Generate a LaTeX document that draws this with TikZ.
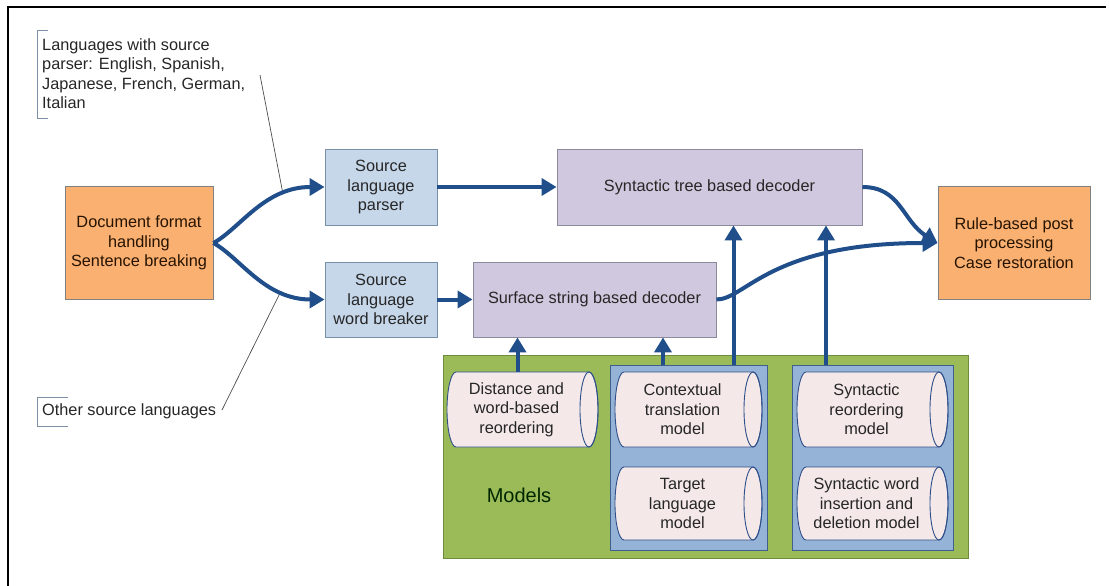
\documentclass[tikz,border=0pt]{standalone}
\usepackage{fontspec}
\setmainfont{Liberation Sans}
\usetikzlibrary{arrows.meta,calc}
\definecolor{orfill}{HTML}{FAB071}
\definecolor{orline}{HTML}{808080}
\definecolor{bluefill}{HTML}{C6D7EA}
\definecolor{blueline}{HTML}{7A8FA8}
\definecolor{purpfill}{HTML}{D0C8DE}
\definecolor{purpline}{HTML}{8C8A9C}
\definecolor{greenfill}{HTML}{9BBB59}
\definecolor{greenline}{HTML}{6E8C3C}
\definecolor{panelfill}{HTML}{95B3D7}
\definecolor{panelline}{HTML}{3F5F8F}
\definecolor{cylfill}{HTML}{F4E8E8}
\definecolor{cylline}{HTML}{2F4F8A}
\definecolor{arrowcol}{HTML}{1F4E8A}
\definecolor{txt}{HTML}{262626}
\definecolor{brk}{HTML}{7F8FA6}
% name, cx, cy, w, h, text
\newcommand{\modelcyl}[6]{%
  \path[cylbody] (#2-#4/2+9,#3-#5/2) -- (#2+#4/2-9,#3-#5/2)
     arc[start angle=-90,end angle=90,x radius=9,y radius=#5/2]
     -- (#2-#4/2+9,#3+#5/2)
     arc[start angle=90,end angle=270,x radius=9,y radius=#5/2] -- cycle;
  \draw[cylend] (#2+#4/2-9,#3) ellipse[x radius=9,y radius=#5/2];
  \node[cyltext, minimum width=#4pt-24pt, minimum height=#5pt] (#1) at (#2-6,#3) {#6};
}
\begin{document}
\begin{tikzpicture}[x=1pt,y=-1pt,
  font=\fontsize{16.3}{19.5}\selectfont,
  box/.style={draw, line width=0.9pt, align=center, text=txt, inner sep=2pt},
  orbox/.style={box, fill=orfill, draw=orline, text=black!85!orange},
  bluebox/.style={box, fill=bluefill, draw=blueline},
  purpbox/.style={box, fill=purpfill, draw=purpline},
  panel/.style={draw=panelline, line width=0.9pt, fill=panelfill},
  cylbody/.style={draw=cylline, line width=0.9pt, fill=cylfill},
  cylend/.style={draw=cylline, line width=0.9pt},
  cyltext/.style={align=center, text=txt, inner sep=0pt},
  arr/.style={draw=arrowcol, line width=4pt, -{Triangle[length=15pt,width=17pt]}},
  lead/.style={draw=black!70, line width=0.7pt},
  bracket/.style={draw=brk, line width=1pt},
]
\useasboundingbox (0,0) rectangle (1109,586);
\draw[line width=2.2pt] (8,586) -- (8,7) -- (1106,7);

% main boxes
\node[orbox, minimum width=148pt, minimum height=113pt] (doc) at (139,243)
  {Document format\\handling\\Sentence breaking};
\node[bluebox, minimum width=112pt, minimum height=76pt] (parser) at (381,187)
  {Source\\language\\parser};
\node[bluebox, minimum width=112pt, minimum height=75pt] (wb) at (381,299.5)
  {Source\\language\\word breaker};
\node[purpbox, minimum width=305pt, minimum height=76pt] (tree) at (709.5,187)
  {Syntactic tree based decoder};
\node[purpbox, minimum width=243pt, minimum height=75pt] (surf) at (594.5,299.5)
  {Surface string based decoder};
\node[orbox, minimum width=152pt, minimum height=113pt] (rule) at (1014,243)
  {Rule-based post\\processing\\Case restoration};

% models area
\node[draw=greenline, line width=0.9pt, fill=greenfill, minimum width=525pt, minimum height=203pt, inner sep=0pt] (models) at (705.5,456.5) {};
\node[panel, minimum width=157pt, minimum height=185pt, inner sep=0pt] (p1) at (688.5,457.5) {};
\node[panel, minimum width=161pt, minimum height=185pt, inner sep=0pt] (p2) at (872.5,457.5) {};
\node[font=\fontsize{20}{24}\selectfont, text=black!85!green] (mlabel) at (519,495) {Models};

\modelcyl{dist}{522.5}{409.5}{151}{75}{Distance and\\word-based\\reordering}
\modelcyl{ctx}{688.5}{409.5}{147}{75}{Contextual\\translation\\model}
\modelcyl{tlm}{688.5}{503.5}{147}{73}{Target\\language\\model}
\modelcyl{sro}{872.5}{409.5}{151}{75}{Syntactic\\reordering\\model}
\modelcyl{swi}{872.5}{503.5}{151}{73}{Syntactic word\\insertion and\\deletion model}

% annotations
\node[anchor=north west, align=left, inner sep=0pt, text=txt] (ann1) at (42,38)
  {Languages with source\\parser: English, Spanish,\\Japanese, French, German,\\Italian};
\draw[bracket] (48,31) -- (37,31) -- (37,118) -- (48,118);
\node[anchor=west, inner sep=0pt, text=txt] (ann2) at (42,411) {Other source languages};
\draw[bracket] (68,397) -- (37,397) -- (37,426) -- (68,426);
\coordinate (l1a) at (260,75);
\coordinate (l1b) at (283,194);
\coordinate (l2a) at (222,410);
\coordinate (l2b) at (281,291);
\draw[lead] (l1a) -- (l1b);
\draw[lead] (l2a) -- (l2b);

% connectors
\draw[arr] (doc.east) .. controls ($(doc.east)+(27,-15)$) and ($(parser.west)+(-60,0)$) .. (parser.west);
\draw[arr] (doc.east) .. controls ($(doc.east)+(27,15)$) and ($(wb.west)+(-60,0)$) .. (wb.west);
\draw[arr] (parser.east) -- (tree.west);
\draw[arr] (wb.east) -- (surf.west);
\draw[arr] (tree.east) .. controls ($(tree.east)+(38,0)$) and ($(rule.west)+(-35,-22)$) .. (rule.west);
\draw[arr] (surf.east) .. controls ($(surf.east)+(29,0)$) and ($(rule.west)+(-168,0)$) .. (rule.west);
\draw[arr] ([xshift=1pt]dist.north) -- ([xshift=1pt]dist.north |- surf.south);
\draw[arr] ([xshift=-25.5pt]p1.north) -- ([xshift=-25.5pt]p1.north |- surf.south);
\draw[arr] ([xshift=45pt]p1.north) -- ([xshift=45pt]p1.north |- tree.south);
\draw[arr] ([xshift=-46.5pt]p2.north) -- ([xshift=-46.5pt]p2.north |- tree.south);
\end{tikzpicture}
\end{document}
